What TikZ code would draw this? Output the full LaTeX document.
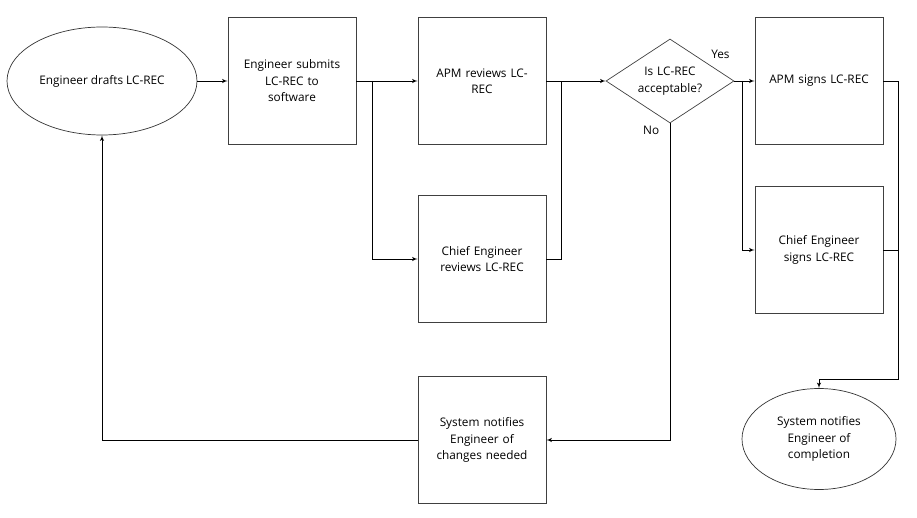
\documentclass[tikz,border=0pt]{standalone}
\usepackage{fontspec}
\setmainfont{Open Sans}
\usetikzlibrary{shapes, arrows}
\tikzstyle{decision} =
        [
                diamond,
                draw = black!75,
                line width = 0.7pt,
                aspect = 1.52,
                minimum width = 128pt,
                minimum height = 84pt,
                text width = 66pt,
                align = center,
                inner sep = 0pt
        ]
\tikzstyle{block} =
        [
                rectangle,
                draw = black!75,
                line width = 0.7pt,
                text width = 114pt,
                align = center,
                minimum width = 128pt,
                minimum height = 127pt
        ]
\tikzstyle{cloud} =
        [
                draw = black!80,
                line width = 0.7pt,
                ellipse,
                align = center,
                inner sep = 0pt
        ]
\tikzstyle{line} =
        [
                draw,
                line width = 0.9pt,
                -latex'
        ]
\tikzstyle{joint} =
        [
                draw,
                line width = 0.9pt
        ]

\begin{document}
\begin{tikzpicture}[node distance = 190pt, auto,
        every node/.style = {font = \fontsize{11.8}{16.5}\selectfont}]
        \useasboundingbox (0,0) rectangle (917pt,-518pt);
        \node [cloud, minimum width = 190pt, minimum height = 108pt] (drafts) at (102pt,-81pt) {Engineer drafts LC-REC};
        \node [block, right of = drafts] (submits) {Engineer submits\\LC-REC to\\software};
        \node [block, right of = submits] (apmreview) {APM reviews LC-\\REC};
        \node [block, below of = apmreview, node distance = 178pt] (chiefreview) {Chief Engineer\\reviews LC-REC};
        \node [decision, right of = apmreview, node distance = 188pt] (condition) {Is LC-REC\\acceptable?};
        \node [block, right of = condition, node distance = 149pt] (apmsign) {APM signs LC-REC};
        \node [block, below of = apmsign, node distance = 169pt] (chiefsign) {Chief Engineer\\signs LC-REC};
        \node [cloud, below of = chiefsign, node distance = 189pt, minimum width = 154pt, minimum height = 101pt] (completion) {System notifies\\Engineer of\\completion};
        \node [block, below of = chiefreview, node distance = 181pt] (changes) {System notifies\\Engineer of\\changes needed};

        \coordinate [right of = submits, node distance = 80pt] (fork1);
        \coordinate [right of = apmreview, node distance = 79pt] (join1);
        \coordinate [right of = condition, node distance = 72pt] (fork2);
        \coordinate (bend1) at (898pt,-379pt);

        \path [line] (drafts) -- (submits);
        \path [line] (submits) -- (apmreview);
        \path [line] (fork1) |- (chiefreview);
        \path [line] (apmreview) -- (condition);
        \path [joint] (chiefreview) -| (join1);
        \path [line] (condition) -- node [pos = 0, anchor = south east, xshift = -1pt, yshift = 19pt] {Yes} (apmsign);
        \path [line] (fork2) |- (chiefsign);
        \path [line] (condition) |- node [pos = 0, anchor = north east, xshift = -7pt, yshift = 1pt] {No} (changes);
        \path [line] (changes) -| (drafts);
        \path [joint] (apmsign) -| (bend1);
        \path [line] (chiefsign) -| (bend1) -| (completion);
\end{tikzpicture}
\end{document}
